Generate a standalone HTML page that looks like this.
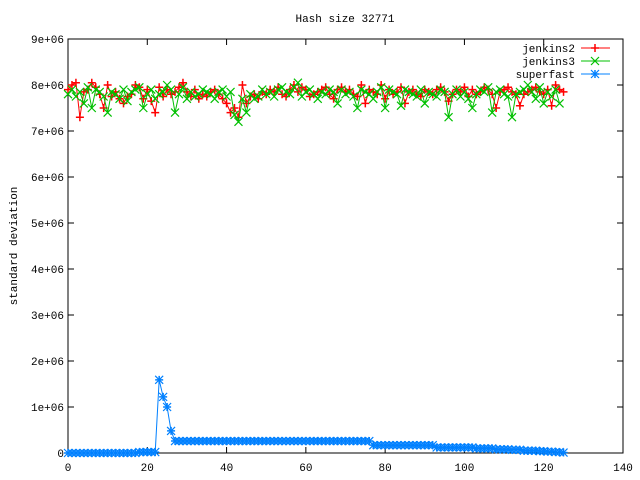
<!DOCTYPE html>
<html><head><meta charset="utf-8"><style>
html,body{margin:0;padding:0;background:#fff;}
svg{display:block;font-family:"Liberation Mono",monospace;font-size:11px;}
</style></head><body>
<svg id="chart" width="640" height="480">
<text x="345" y="22" text-anchor="middle">Hash size 32771</text>
<text transform="translate(17,246) rotate(-90)" text-anchor="middle">standard deviation</text>
<g id="axes"></g><g id="series"></g><g id="legend"></g>
</svg>
<script>
const xTicks=[0,20,40,60,80,100,120,140];
const yTicks=[0,1,2,3,4,5,6,7,8,9];
const yTickLabels=["0","1e+06","2e+06","3e+06","4e+06","5e+06","6e+06","7e+06","8e+06","9e+06"];
const jenkins2=[7.9,8.0,8.05,7.3,7.85,7.9,8.05,7.95,7.8,7.5,8.0,7.75,7.85,7.7,7.6,7.75,7.8,8.0,7.95,7.7,7.9,7.65,7.4,7.95,7.75,7.9,7.8,7.85,7.95,8.05,7.85,7.75,7.9,7.7,7.8,7.75,7.85,7.9,7.8,7.7,7.6,7.4,7.5,7.3,8.0,7.6,7.75,7.8,7.7,7.85,7.8,7.9,7.85,7.95,7.8,7.75,7.9,8.0,7.85,7.95,7.9,7.75,7.8,7.85,7.9,7.95,7.8,7.7,7.9,7.95,7.85,7.9,7.8,7.75,8.0,7.6,7.9,7.85,7.8,8.0,7.7,7.9,7.8,7.85,7.95,7.6,7.85,7.9,7.8,7.75,7.9,7.85,7.8,7.9,7.95,7.85,7.65,7.8,7.9,7.85,7.95,7.75,7.9,7.8,7.85,7.95,7.9,7.8,7.5,7.85,7.9,7.95,7.85,7.8,7.55,7.8,7.85,7.9,7.95,7.85,7.8,7.9,7.55,8.0,7.9,7.85];
const jenkins3=[7.8,7.9,7.75,7.85,7.6,7.95,7.5,7.9,7.85,7.75,7.4,7.85,7.8,7.7,7.9,7.65,7.85,7.9,7.95,7.5,7.8,7.9,7.7,7.8,7.85,8.0,7.9,7.4,7.8,7.95,7.7,7.85,7.75,7.8,7.9,7.85,7.8,7.7,7.85,7.9,7.75,7.85,7.35,7.2,7.7,7.4,7.8,7.7,7.75,7.9,7.8,7.85,7.75,7.9,7.95,7.85,7.8,7.95,8.05,7.75,7.85,7.9,7.8,7.7,7.85,7.8,7.9,7.85,7.6,7.9,7.8,7.85,7.75,7.5,7.9,7.85,7.8,7.7,7.85,7.95,7.5,7.9,7.85,7.8,7.55,7.9,7.85,7.8,7.75,7.9,7.6,7.85,7.8,7.75,7.9,7.85,7.3,7.8,7.9,7.75,7.85,7.7,7.5,7.8,7.9,7.85,7.95,7.4,7.85,7.9,7.8,7.75,7.3,7.8,7.85,7.9,8.0,7.85,7.7,7.95,7.6,7.85,7.75,7.9,7.6];
const superfast=[0,0,0,0,0,0,0,0,0,0,0,0,0,0,0,0,0,0,0.02,0.02,0.02,0.02,0.02,1.59,1.22,1.0,0.48,0.26,0.26,0.26,0.26,0.26,0.26,0.26,0.26,0.26,0.26,0.26,0.26,0.26,0.26,0.26,0.26,0.26,0.26,0.26,0.26,0.26,0.26,0.26,0.26,0.26,0.26,0.26,0.26,0.26,0.26,0.26,0.26,0.26,0.26,0.26,0.26,0.26,0.26,0.26,0.26,0.26,0.26,0.26,0.26,0.26,0.26,0.26,0.26,0.26,0.26,0.17,0.17,0.17,0.17,0.17,0.17,0.17,0.17,0.17,0.17,0.17,0.17,0.17,0.17,0.17,0.17,0.12,0.12,0.12,0.12,0.12,0.12,0.12,0.12,0.12,0.12,0.1,0.1,0.1,0.1,0.1,0.08,0.08,0.08,0.08,0.07,0.07,0.07,0.05,0.05,0.05,0.05,0.04,0.04,0.03,0.03,0.02,0.02,0.01];
const NS="http://www.w3.org/2000/svg";
const X0=68,X1=623,Y0=453,Y1=39;
function xs(v){return X0+(v-0)/(140-0)*(X1-X0);}
function ys(v){return Y0-(v/9)*(Y0-Y1);}
function mk(t,a,p){const e=document.createElementNS(NS,t);for(const k in a)e.setAttribute(k,a[k]);p.appendChild(e);return e;}
const axes=document.getElementById('axes');
const box=mk('rect',{x:X0,y:Y1,width:X1-X0,height:Y0-Y1,fill:'none',stroke:'#000','stroke-width':1},axes);


xTicks.forEach(t=>{const x=xs(t);
 mk('line',{x1:x,y1:Y0,x2:x,y2:Y0-6,stroke:'#000'},axes);
 mk('line',{x1:x,y1:Y1,x2:x,y2:Y1+6,stroke:'#000'},axes);
 const tx=mk('text',{x:x,y:Y0+18,'text-anchor':'middle'},axes);tx.textContent=t;
 
 
});
yTicks.forEach((t,i)=>{const y=ys(t);
 mk('line',{x1:X0,y1:y,x2:X0+6,y2:y,stroke:'#000'},axes);
 mk('line',{x1:X1,y1:y,x2:X1-6,y2:y,stroke:'#000'},axes);
 const tx=mk('text',{x:X0-4,y:y+4,'text-anchor':'end'},axes);tx.textContent=yTickLabels[i];
 
 
});
function plus(g,x,y,c){mk('path',{d:`M${x-4} ${y}H${x+4}M${x} ${y-4}V${y+4}`,stroke:c,'stroke-width':1.5,fill:'none'},g);}
function cross(g,x,y,c){mk('path',{d:`M${x-4} ${y-4}L${x+4} ${y+4}M${x-4} ${y+4}L${x+4} ${y-4}`,stroke:c,'stroke-width':1.2,fill:'none'},g);}
function star(g,x,y,c){plus(g,x,y,c);cross(g,x,y,c);}
const ser=document.getElementById('series');
const defs=[{d:jenkins2,c:'#ff0000',m:plus,n:'jenkins2'},{d:jenkins3,c:'#00c000',m:cross,n:'jenkins3'},{d:superfast,c:'#0080ff',m:star,n:'superfast'}];
defs.forEach(s=>{
 const g=mk('g',{},ser);
 
 
 mk('polyline',{points:s.d.map((v,i)=>xs(i)+','+ys(v)).join(' '),fill:'none',stroke:s.c,'stroke-width':1},g);
 s.d.forEach((v,i)=>s.m(g,xs(i),ys(v),s.c));
});
const lg=document.getElementById('legend');
defs.forEach((s,i)=>{const y=48+i*13;
 const g=mk('g',{},lg);
 
 
 const t=mk('text',{x:575,y:y+4,'text-anchor':'end'},g);t.textContent=s.n;
 mk('line',{x1:581,y1:y,x2:610,y2:y,stroke:s.c},g);
 s.m(g,595,y,s.c);
});
</script>
</body></html>
